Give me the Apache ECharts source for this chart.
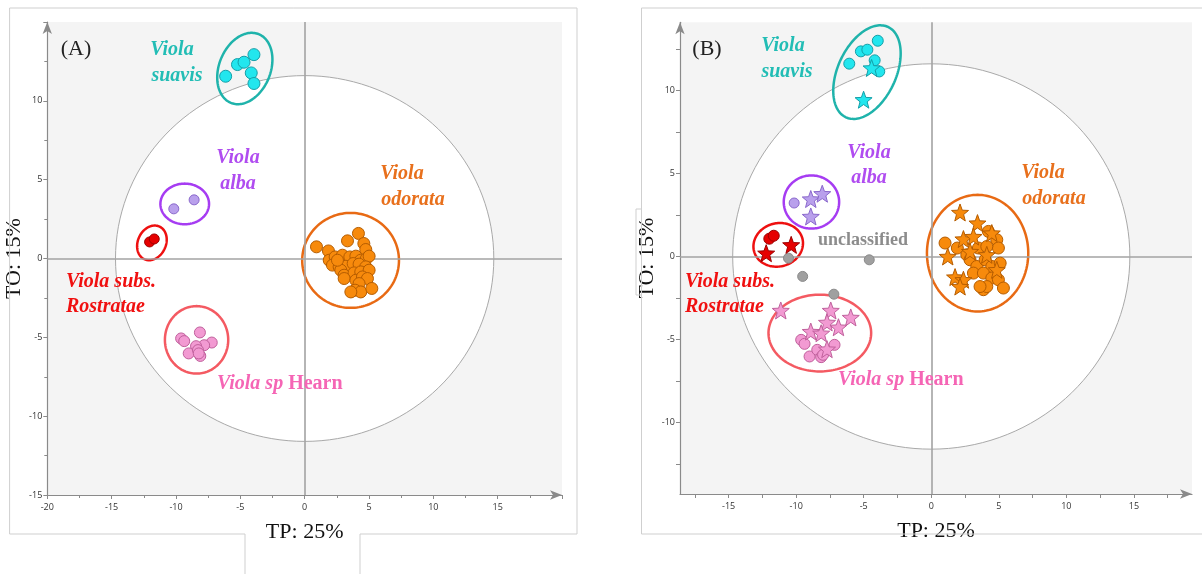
<!DOCTYPE html>
<html><head><meta charset="utf-8">
<script src="https://cdn.jsdelivr.net/npm/echarts@6/dist/echarts.min.js"></script>
<style>html,body{margin:0;padding:0;background:#fff}#c{width:1202px;height:574px}</style>
</head><body><div id="c"></div>
<script>
// ---------- Panel A data ----------
const A_suavis = [[-6.14,11.56],[-5.22,12.30],[-4.71,12.45],[-3.94,12.93],[-4.15,11.77],[-3.94,11.10]];
const A_alba = [[-10.17,3.15],[-8.59,3.72]];
const A_rostratae = [[-12.05,1.05],[-11.69,1.24]];
const A_odorata = [[0.92,0.74],[1.85,0.48],[3.33,1.12],[4.18,1.59],[4.60,0.95],[4.75,0.57],[1.91,-0.11],[2.37,0.10],
  [2.94,0.21],[3.51,0.10],[3.98,0.15],[4.36,-0.11],[4.80,0.00],[5.01,0.15],[2.16,-0.42],[2.68,-0.53],[3.20,-0.49],
  [3.77,-0.32],[4.23,-0.36],[4.75,-0.53],[2.81,-0.74],[3.07,-1.06],[3.84,-0.91],[4.36,-0.85],[5.01,-0.74],[3.07,-1.27],
  [3.98,-1.38],[4.49,-1.17],[4.88,-1.27],[4.23,-1.59],[3.92,-2.01],[4.36,-2.12],[5.22,-1.90],[3.59,-2.12],[2.55,-0.11]];
const A_hearn = [[-9.60,-5.07],[-9.36,-5.24],[-8.14,-4.69],[-7.22,-5.33],[-7.81,-5.50],[-8.44,-5.56],[-9.01,-6.02],
  [-8.29,-5.81],[-8.11,-6.18],[-8.23,-6.02]];
// ellipses: [cx, cy, rx, ry, rotationDeg]
const A_ellipse_big = [0,0,14.7,11.6,0];
const A_ellipse_suavis = [-4.65,12.05,2.0,2.35,22];
const A_ellipse_alba = [-9.32,3.46,1.89,1.29,0];
const A_ellipse_rostratae = [-11.87,0.99,1.09,1.14,25];
const A_ellipse_odorata = [3.57,-0.12,3.76,3.01,0];
const A_ellipse_hearn = [-8.40,-5.16,2.46,2.14,0];

// ---------- Panel B data ----------
const B_suavis_c = [[-6.07,11.61],[-5.21,12.35],[-4.73,12.45],[-3.96,12.99],[-4.19,11.81],[-3.85,11.14]];
const B_suavis_s = [[-4.42,11.35],[-5.01,9.44]];
const B_alba_c = [[-10.15,3.22]];
const B_alba_s = [[-8.92,3.46],[-8.07,3.78],[-8.92,2.41]];
const B_rostratae_c = [[-11.99,1.07],[-11.66,1.25]];
const B_rostratae_s = [[-12.22,0.2],[-10.37,0.7]];
const B_unclassified = [[-10.57,-0.1],[-9.52,-1.2],[-4.59,-0.2],[-7.21,-2.27]];
const B_hearn_c = [[-9.63,-5.02],[-9.38,-5.26],[-9.01,-6.02],[-8.44,-5.62],[-8.15,-6.06],[-8.01,-5.92],[-7.16,-5.32]];
const B_hearn_s = [[-11.14,-3.25],[-7.44,-3.25],[-5.96,-3.67],[-7.72,-3.97],[-6.87,-4.26],[-8.92,-4.52],[-8.15,-4.62],[-7.72,-5.58]];
const B_odorata_c = [[1.02,0.81],[1.93,0.51],[4.23,1.51],[4.85,1.01],[4.97,0.51],[2.63,0.1],[3.49,0.51],[4.11,0.6],
  [2.87,-0.2],[3.37,-0.6],[3.99,-0.2],[4.48,-0.6],[5.10,-0.4],[3.12,-1.0],[3.86,-1.0],[4.48,-1.3],[4.97,-1.4],
  [3.86,-2.0],[4.11,-1.81],[5.34,-1.9],[3.61,-1.81]];
const B_odorata_s = [[2.13,2.65],[3.42,2.01],[4.48,1.41],[2.38,1.05],[1.22,0.0],[1.76,-1.24],[2.38,-1.40],[2.13,-1.81],
  [3.12,1.2],[4.11,0.1],[2.87,0.3],[4.85,-0.8]];
const B_ellipse_big = [0,0,14.7,11.6,0];
const B_ellipse_suavis = [-4.76,11.1,2.15,3.0,25];
const B_ellipse_alba = [-8.87,3.28,2.05,1.6,0];
const B_ellipse_rostratae = [-11.33,0.70,1.85,1.3,-15];
const B_ellipse_odorata = [3.43,0.2,3.75,3.51,0];
const B_ellipse_hearn = [-8.25,-4.61,3.8,2.31,0];

// axis ranges and tick labels
const A_xRange = [-20,20], A_yRange = [-15,15];
const B_xRange = [-18.6,19.3], B_yRange = [-14.3,14.1];
const tickInterval = 5;
const B_xTickLabels = [-15,-10,-5,0,5,10,15];
const B_xTicks = [-17.5,-15,-12.5,-10,-7.5,-5,-2.5,0,2.5,5,7.5,10,12.5,15,17.5];
const B_yTickLabels = [-10,-5,0,5,10];
const B_yTicks = [-12.5,-10,-7.5,-5,-2.5,0,2.5,5,7.5,10,12.5];

// ---------- styles ----------
const C = {
  cyan:{fill:'#22e6ee',border:'#149fa8',ell:'#1fb3ab',text:'#22bdb5'},
  purple:{fill:'#b9a0ec',border:'#8a68cc',ell:'#a63cf2',text:'#b04cf0'},
  red:{fill:'#e60000',border:'#9c0000',ell:'#ee1010',text:'#f01010'},
  orange:{fill:'#f78a0c',border:'#b55c00',ell:'#e86a14',text:'#e8701c'},
  pink:{fill:'#f29ad2',border:'#c0609c',ell:'#f45a62',text:'#f565b5'},
  gray:{fill:'#a0a0a0',border:'#8a8a8a',text:'#8c8c8c'}
};
const STAR = 'path://M50 0 L62.34 33.01 L97.55 34.55 L69.97 56.49 L79.39 90.45 L50 71 L20.61 90.45 L30.03 56.49 L2.45 34.55 L37.66 33.01 Z';
const SERIF = '"Liberation Serif","Times New Roman",serif';

function ellipse(g, e, stroke, fill, lw, z){
  return {type:'custom', xAxisIndex:g, yAxisIndex:g, z:z, silent:true, clip:false,
    data:[e],
    renderItem:function(params, api){
      const c = api.coord([api.value(0), api.value(1)]);
      const s = api.size([1,1]);
      const rx = api.value(2)*s[0], ry = api.value(3)*s[1];
      const th = api.value(4)*Math.PI/180;
      const pts=[];
      for(let i=0;i<=144;i++){const t=i/144*2*Math.PI;const x=rx*Math.cos(t),y=ry*Math.sin(t);
        pts.push([c[0]+x*Math.cos(th)-y*Math.sin(th), c[1]+x*Math.sin(th)+y*Math.cos(th)]);}
      return {type:'polygon', shape:{points:pts}, style:{fill:fill, stroke:stroke, lineWidth:lw}};
    }};
}
function pts(g, data, col, symbol, size){
  return {type:'scatter', xAxisIndex:g, yAxisIndex:g, z:5, data:data, symbol:symbol, symbolSize:size,
    itemStyle:{color:col.fill, borderColor:col.border, borderWidth:1, opacity:1}, silent:true};
}
function zeroLines(g){
  return {type:'scatter', xAxisIndex:g, yAxisIndex:g, z:2, data:[], silent:true,
    markLine:{silent:true, symbol:'none', animation:false, label:{show:false},
      lineStyle:{color:'#a3a3a3', width:1.6, type:'solid'},
      data:[{xAxis:0},{yAxis:0}]}};
}
function baseAxis(g, r, ticks, labels){
  const ax = {gridIndex:g, type:'value', min:r[0], max:r[1], interval:tickInterval,
    axisLine:{show:true,onZero:false,lineStyle:{color:'#8a8a8a',width:1.2},symbol:['none','arrow'],symbolSize:[7,12]},
    axisTick:{show:true,length:4,lineStyle:{color:'#8a8a8a'}},
    minorTick:{show:true,splitNumber:2,length:3,lineStyle:{color:'#8a8a8a'}},
    splitLine:{show:false},
    axisLabel:{showMaxLabel:false,fontSize:9,color:'#333',fontFamily:'"Open Sans",sans-serif'}};
  if(ticks){
    ax.axisTick.customValues = ticks;
    ax.axisLabel.customValues = labels;
    ax.axisLabel.showMaxLabel = true;
    ax.axisLabel.showMinLabel = true;
    ax.minorTick.show = false;
  }
  return ax;
}
function xAx(g, r, ticks, labels){
  const ax = baseAxis(g, r, ticks, labels);
  ax.axisLabel.margin = 8;
  ax.name = 'TP: 25%'; ax.nameLocation = 'middle'; ax.nameGap = 26;
  ax.nameTextStyle = {fontFamily:SERIF,fontSize:22,color:'#111'};
  return ax;
}
function yAx(g, r, gap, ticks, labels){
  const ax = baseAxis(g, r, ticks, labels);
  ax.axisLabel.margin = 5;
  ax.name = 'TO: 15%'; ax.nameLocation = 'middle'; ax.nameGap = gap; ax.nameRotate = 90;
  ax.nameTextStyle = {fontFamily:SERIF,fontSize:22,color:'#111'};
  return ax;
}
function txt(x,y,t,color,opt){
  opt=opt||{};
  return {type:'text', z:50, x:x, y:y, style:{text:t, fill:color,
    font:(opt.font||'italic bold 20px '+SERIF), align:opt.align||'center', verticalAlign:'middle',
    textAlign:opt.align||'center', textVerticalAlign:'middle', rich:opt.rich}};
}
function line(points, color){
  return {type:'polyline', z:40, shape:{points:points}, style:{stroke:color||'#cfcfcf', lineWidth:1, fill:null}};
}

const chart = echarts.init(document.getElementById('c'), null, {renderer:'canvas'});
const hearnRich = {i:{fontStyle:'italic',fontWeight:'bold',fontSize:20,fontFamily:SERIF,fill:C.pink.text,color:C.pink.text},
                   n:{fontStyle:'normal',fontWeight:'bold',fontSize:20,fontFamily:SERIF,fill:C.pink.text,color:C.pink.text}};
chart.setOption({
  animation:false,
  backgroundColor:'#ffffff',
  grid:[
    {left:47.3, top:22, width:514.7, height:473, show:true, backgroundColor:'#f4f4f4', borderWidth:0},
    {left:680, top:22.3, width:512, height:471.7, show:true, backgroundColor:'#f4f4f4', borderWidth:0}
  ],
  xAxis:[xAx(0,A_xRange), xAx(1,B_xRange,B_xTicks,B_xTickLabels)],
  yAxis:[yAx(0,A_yRange,14), yAx(1,B_yRange,11,B_yTicks,B_yTickLabels)],
  series:[
    ellipse(0,A_ellipse_big,'#a9a9a9','#ffffff',1,1),
    zeroLines(0),
    ellipse(0,A_ellipse_suavis,C.cyan.ell,null,2.5,3),
    ellipse(0,A_ellipse_alba,C.purple.ell,null,2.5,3),
    ellipse(0,A_ellipse_rostratae,C.red.ell,null,2.5,3),
    ellipse(0,A_ellipse_odorata,C.orange.ell,null,2.5,3),
    ellipse(0,A_ellipse_hearn,C.pink.ell,null,2.5,3),
    pts(0,A_suavis,C.cyan,'circle',12),
    pts(0,A_alba,C.purple,'circle',10),
    pts(0,A_rostratae,C.red,'circle',10),
    pts(0,A_odorata,C.orange,'circle',12),
    pts(0,A_hearn,C.pink,'circle',11),

    ellipse(1,B_ellipse_big,'#a9a9a9','#ffffff',1,1),
    zeroLines(1),
    ellipse(1,B_ellipse_suavis,C.cyan.ell,null,2.5,3),
    ellipse(1,B_ellipse_alba,C.purple.ell,null,2.5,3),
    ellipse(1,B_ellipse_rostratae,C.red.ell,null,2.5,3),
    ellipse(1,B_ellipse_odorata,C.orange.ell,null,2.5,3),
    ellipse(1,B_ellipse_hearn,C.pink.ell,null,2.5,3),
    pts(1,B_unclassified,C.gray,'circle',10),
    pts(1,B_suavis_c,C.cyan,'circle',11),
    pts(1,B_suavis_s,C.cyan,STAR,17),
    pts(1,B_alba_c,C.purple,'circle',10),
    pts(1,B_alba_s,C.purple,STAR,17),
    pts(1,B_rostratae_c,C.red,'circle',11),
    pts(1,B_rostratae_s,C.red,STAR,17),
    pts(1,B_hearn_c,C.pink,'circle',11),
    pts(1,B_hearn_s,C.pink,STAR,17),
    pts(1,B_odorata_c,C.orange,'circle',12),
    pts(1,B_odorata_s,C.orange,STAR,17)
  ],
  graphic:[
    // frames
    line([[9.6,8],[577,8],[577,534],[360,534],[360,574]]),
    line([[9.6,8],[9.6,534],[245,534],[245,574]]),
    line([[641.5,8],[1202,8]]),
    line([[641.5,8],[641.5,534],[1202,534]]),
    line([[641.5,209],[636,209],[636,295],[641.5,295]]),
    // panel A labels
    txt(76,49,'(A)','#222',{font:'22px '+SERIF}),
    txt(172,50,'Viola',C.cyan.text), txt(177,76,'suavis',C.cyan.text),
    txt(238,158,'Viola',C.purple.text), txt(238,184,'alba',C.purple.text),
    txt(402,174,'Viola',C.orange.text), txt(413,200,'odorata',C.orange.text),
    txt(66,282,'Viola subs.',C.red.text,{align:'left'}), txt(66,307,'Rostratae',C.red.text,{align:'left'}),
    txt(217,384,'{i|Viola sp} {n|Hearn}',C.pink.text,{align:'left',rich:hearnRich}),
    // panel B labels
    txt(707,49,'(B)','#222',{font:'22px '+SERIF}),
    txt(783,46,'Viola',C.cyan.text), txt(787,72,'suavis',C.cyan.text),
    txt(869,153,'Viola',C.purple.text), txt(869,178,'alba',C.purple.text),
    txt(1043,173,'Viola',C.orange.text), txt(1054,199,'odorata',C.orange.text),
    txt(863,240,'unclassified',C.gray.text,{font:'bold 18px '+SERIF}),
    txt(685,282,'Viola subs.',C.red.text,{align:'left'}), txt(685,307,'Rostratae',C.red.text,{align:'left'}),
    txt(838,380,'{i|Viola sp} {n|Hearn}',C.pink.text,{align:'left',rich:hearnRich})
  ]
});
</script>
</body></html>
